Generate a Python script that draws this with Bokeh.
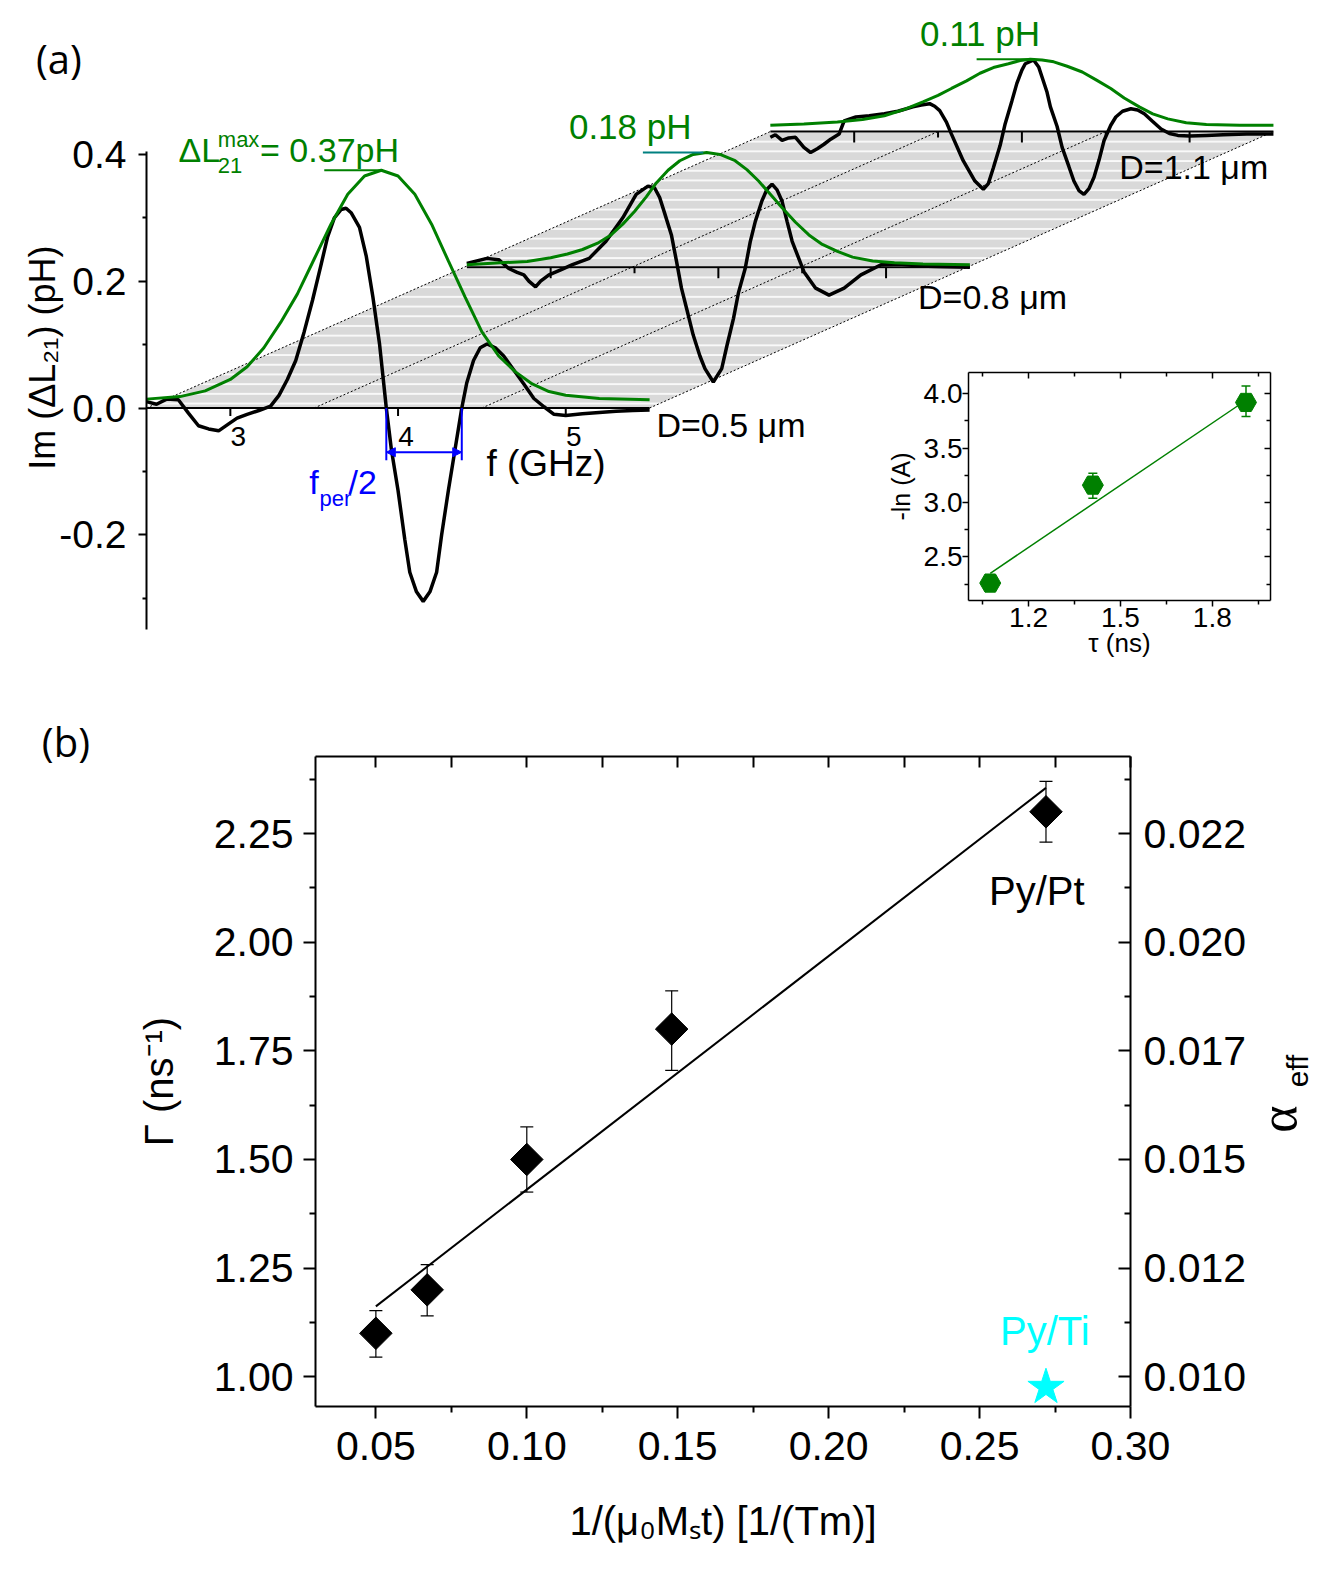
import numpy as np
from bokeh.plotting import figure
from bokeh.models import (LinearAxis, Range1d, FixedTicker, ColumnDataSource, Whisker,
                          TeeHead, Arrow, NormalHead, GridBox)
from bokeh.embed import file_html
from bokeh.resources import INLINE
from bokeh.core.properties import value

# ============================ DATA ============================
# ---- panel (a): Im(dL21) (pH) vs f (GHz), each trace relative to its own baseline
f_d05 = [2.50, 2.56, 2.62, 2.69, 2.75, 2.81, 2.87, 2.93, 2.99, 3.04, 3.10, 3.17, 3.24, 3.29, 3.34,
         3.39, 3.44, 3.49, 3.54, 3.58, 3.62, 3.66, 3.69, 3.72, 3.77, 3.81, 3.85, 3.89, 3.93, 3.96,
         4.00, 4.04, 4.07, 4.11, 4.15, 4.19, 4.23, 4.26, 4.30, 4.34, 4.38, 4.41, 4.45, 4.49, 4.53,
         4.58, 4.63, 4.69, 4.75, 4.81, 4.87, 4.93, 5.00, 5.10, 5.20, 5.30, 5.40, 5.50]
v_d05 = [0.010, 0.006, 0.014, 0.013, -0.008, -0.028, -0.033, -0.036, -0.025, -0.016, -0.010, -0.004,
         0.003, 0.020, 0.045, 0.075, 0.120, 0.170, 0.225, 0.270, 0.300, 0.313, 0.315, 0.308, 0.285,
         0.240, 0.175, 0.100, 0.000, -0.065, -0.130, -0.207, -0.259, -0.290, -0.305, -0.290, -0.259,
         -0.200, -0.130, -0.065, 0.000, 0.040, 0.075, 0.095, 0.101, 0.095, 0.082, 0.060, 0.038, 0.015,
         0.002, -0.010, -0.012, -0.009, -0.007, -0.005, -0.004, -0.003]
g05_f = [2.50, 2.70, 2.85, 3.00, 3.10, 3.20, 3.30, 3.40, 3.50, 3.60, 3.70, 3.80, 3.90, 4.00, 4.10,
         4.20, 4.30, 4.40, 4.50, 4.60, 4.70, 4.80, 4.90, 5.00, 5.20, 5.50]
g05_v = [0.014, 0.018, 0.027, 0.045, 0.065, 0.095, 0.135, 0.180, 0.235, 0.290, 0.337, 0.366, 0.375,
         0.366, 0.337, 0.290, 0.232, 0.175, 0.120, 0.082, 0.057, 0.038, 0.026, 0.020, 0.015, 0.013]

f_d08 = [2.50, 2.56, 2.62, 2.69, 2.75, 2.80, 2.84, 2.87, 2.91, 2.94, 2.99, 3.06, 3.13, 3.23, 3.33,
         3.43, 3.51, 3.58, 3.62, 3.65, 3.68, 3.72, 3.75, 3.78, 3.82, 3.85, 3.89, 3.92, 3.97, 4.02,
         4.05, 4.09, 4.12, 4.16, 4.19, 4.22, 4.26, 4.29, 4.32, 4.35, 4.38, 4.41, 4.44, 4.51, 4.58,
         4.66, 4.75, 4.85, 4.97, 5.08, 5.20, 5.30, 5.50]
v_d08 = [0.006, 0.010, 0.014, 0.012, -0.002, -0.008, -0.012, -0.022, -0.031, -0.022, -0.012, -0.004,
         0.004, 0.014, 0.041, 0.078, 0.115, 0.128, 0.125, 0.110, 0.085, 0.051, 0.010, -0.033, -0.075,
         -0.107, -0.140, -0.160, -0.181, -0.160, -0.125, -0.081, -0.040, -0.002, 0.040, 0.072, 0.105,
         0.123, 0.131, 0.122, 0.104, 0.072, 0.041, -0.007, -0.033, -0.044, -0.033, -0.012, 0.004,
         0.005, 0.002, 0.001, 0.000]
g08_f = [2.50, 2.70, 2.86, 3.00, 3.10, 3.19, 3.28, 3.36, 3.43, 3.50, 3.57, 3.63, 3.70, 3.77, 3.85,
         3.93, 4.01, 4.10, 4.17, 4.24, 4.31, 4.38, 4.46, 4.54, 4.62, 4.71, 4.80, 4.92, 5.05, 5.22, 5.50]
g08_v = [0.004, 0.007, 0.009, 0.015, 0.021, 0.028, 0.038, 0.051, 0.068, 0.088, 0.111, 0.133, 0.153,
         0.168, 0.178, 0.181, 0.178, 0.168, 0.154, 0.136, 0.115, 0.094, 0.071, 0.051, 0.036, 0.025,
         0.016, 0.010, 0.007, 0.005, 0.004]

f_d11 = [2.50, 2.53, 2.57, 2.61, 2.65, 2.70, 2.74, 2.78, 2.82, 2.86, 2.91, 2.94, 3.01, 3.09, 3.18,
         3.26, 3.35, 3.40, 3.45, 3.48, 3.51, 3.55, 3.58, 3.65, 3.72, 3.77, 3.80, 3.83, 3.87, 3.90,
         3.94, 3.97, 4.00, 4.02, 4.07, 4.10, 4.12, 4.15, 4.17, 4.21, 4.24, 4.28, 4.31, 4.34, 4.37,
         4.40, 4.43, 4.46, 4.49, 4.53, 4.56, 4.60, 4.65, 4.69, 4.73, 4.78, 4.83, 4.88, 4.93, 5.00,
         5.10, 5.20, 5.34, 5.50]
v_d11 = [-0.009, -0.005, -0.014, -0.010, -0.009, -0.025, -0.033, -0.027, -0.020, -0.012, -0.004, 0.017,
         0.023, 0.025, 0.028, 0.032, 0.039, 0.042, 0.044, 0.040, 0.033, 0.015, -0.004, -0.046, -0.078,
         -0.091, -0.082, -0.057, -0.022, 0.012, 0.048, 0.076, 0.097, 0.107, 0.113, 0.102, 0.086, 0.062,
         0.039, 0.008, -0.025, -0.055, -0.078, -0.093, -0.099, -0.090, -0.072, -0.045, -0.014, 0.010,
         0.023, 0.032, 0.036, 0.034, 0.028, 0.016, 0.004, -0.003, -0.006, -0.007, -0.006, -0.005,
         -0.004, -0.004]
g11_f = [2.50, 2.70, 2.90, 3.05, 3.18, 3.30, 3.41, 3.50, 3.58, 3.67, 3.75, 3.83, 3.92, 3.99, 4.05,
         4.12, 4.19, 4.27, 4.36, 4.44, 4.53, 4.61, 4.70, 4.78, 4.87, 4.98, 5.10, 5.30, 5.50]
g11_v = [0.010, 0.012, 0.015, 0.019, 0.025, 0.035, 0.047, 0.057, 0.068, 0.080, 0.092, 0.101, 0.107,
         0.112, 0.114, 0.113, 0.110, 0.103, 0.094, 0.082, 0.068, 0.053, 0.039, 0.028, 0.020, 0.014,
         0.011, 0.010, 0.010]

diameter_labels = ["D=0.5 \u03bcm", "D=0.8 \u03bcm", "D=1.1 \u03bcm"]
peak_levels = [0.375, 0.181, 0.114]
peak_texts = ["= 0.37pH", "0.18 pH", "0.11 pH"]
peak_line_f0 = [3.56, 3.55, 3.73]
peak_line_f1 = [3.91, 3.91, 4.07]
f_range = [2.5, 5.5]
f_major = [3, 4, 5]
f_minor = [3.5, 4.5]
f_labels = ["3", "4", "5"]
f_dotted = [2.5, 3.5, 4.5, 5.5]
f_half_period = [3.93, 4.38]
ya_ticks = [-0.2, 0.0, 0.2, 0.4]
ya_minor = [-0.3, -0.1, 0.1, 0.3]
ya_labels = ["-0.2", "0.0", "0.2", "0.4"]

# ---- inset: -ln(A) vs tau (ns)
tau = [1.075, 1.41, 1.91]
mlnA = [2.26, 3.16, 3.92]
mlnA_lo = [2.22, 3.04, 3.79]
mlnA_hi = [2.30, 3.27, 4.07]
tau_fit = [1.075, 1.91]
mlnA_fit = [2.35, 3.94]
ins_x_ticks = [1.2, 1.5, 1.8]
ins_x_minor = [1.05, 1.35, 1.65, 1.95]
ins_x_labels = ["1.2", "1.5", "1.8"]
ins_y_ticks = [2.5, 3.0, 3.5, 4.0]
ins_y_minor = [2.25, 2.75, 3.25, 3.75]
ins_y_labels = ["2.5", "3.0", "3.5", "4.0"]

# ---- panel (b): Gamma vs 1/(mu0 Ms t)
inv_mst = [0.050, 0.067, 0.100, 0.148, 0.272]
gamma = [1.10, 1.20, 1.50, 1.80, 2.30]
gamma_lo = [1.045, 1.140, 1.425, 1.705, 2.230]
gamma_hi = [1.152, 1.258, 1.575, 1.888, 2.370]
fit_x = [0.050, 0.272]
fit_gamma = [1.162, 2.355]
pyti_x = [0.272]
pyti_gamma = [0.976]
xb_ticks = [0.05, 0.10, 0.15, 0.20, 0.25, 0.30]
xb_minor = [0.075, 0.125, 0.175, 0.225, 0.275]
xb_labels = ["0.05", "0.10", "0.15", "0.20", "0.25", "0.30"]
yb_ticks = [1.00, 1.25, 1.50, 1.75, 2.00, 2.25]
yb_minor = [1.125, 1.375, 1.625, 1.875, 2.125, 2.375]
yb_labels = ["1.00", "1.25", "1.50", "1.75", "2.00", "2.25"]
alpha_per_gamma = 0.01
alpha_ticks = [0.010, 0.0125, 0.015, 0.0175, 0.020, 0.0225]
alpha_minor = [0.01125, 0.01375, 0.01625, 0.01875, 0.02125, 0.02375]
alpha_labels = ["0.010", "0.012", "0.015", "0.017", "0.020", "0.022"]

# ============================ STYLE / LAYOUT ============================
FONT = "Liberation Sans"
LETTER_FONT = "Open Sans"
GREEN = "#008000"
TEAL = "#008080"
BLUE = "#0000ff"
CYAN = "#00ffff"
S = 1327 / 1319          # reading scale -> page pixels

PAGE_W = 1319
HA = 680
A_BL, A_BR, A_BT, A_BB = 146, 29, 8, 51
PX_PER_GHZ = 167.7
PX_PER_PH = 634.0
A_BASE_Y = 407.5
xa_end = f_range[0] + (PAGE_W - A_BL - A_BR) / PX_PER_GHZ
ya_end = (A_BASE_Y - A_BT) / PX_PER_PH
ya_start = ya_end - (HA - A_BT - A_BB) / PX_PER_PH
trace_df = [0.0, 1.91, 3.72]
trace_dv = [0.0, 0.222, 0.436]


def ax_(px):
    return f_range[0] + (px * S - A_BL) / PX_PER_GHZ


def ay_(py):
    return (A_BASE_Y - py * S) / PX_PER_PH


def txt(p, x, y, t, size, color="black", align="left", baseline="middle", font=FONT,
        x_offset=0, angle=0.0):
    p.text(x=[x], y=[y], text=[t], text_font=value(font), text_font_size=size, text_color=color,
           text_align=align, text_baseline=baseline, x_offset=x_offset, angle=angle)


def style_axis(a, ticks, minor, labels, t_in, t_out, m_in, m_out, size, lw=2, standoff=8):
    a.ticker = FixedTicker(ticks=ticks, minor_ticks=minor)
    if labels is None:
        a.major_label_overrides = {t: "" for t in ticks}
    else:
        a.major_label_overrides = dict(zip(ticks, labels))
    a.major_tick_in = t_in
    a.major_tick_out = t_out
    a.minor_tick_in = m_in
    a.minor_tick_out = m_out
    a.major_tick_line_width = lw
    a.minor_tick_line_width = lw
    a.axis_line_width = lw
    a.major_label_text_font = FONT
    a.major_label_text_font_size = size
    a.major_label_text_color = "black"
    a.major_label_standoff = standoff
    a.axis_label_text_font = FONT
    a.axis_label_text_font_style = "normal"
    a.axis_label_text_color = "black"


# ============================ PANEL (a) ============================
pa = figure(width=PAGE_W, height=HA, x_range=Range1d(f_range[0], xa_end),
            y_range=Range1d(ya_start, ya_end), x_axis_location=None, y_axis_location="left",
            toolbar_location=None, output_backend="svg", min_border_left=A_BL,
            min_border_right=A_BR, min_border_top=A_BT, min_border_bottom=A_BB,
            outline_line_color=None, frame_align=False)
pa.grid.visible = False
ya = pa.yaxis[0]
style_axis(ya, ya_ticks, ya_minor, ya_labels, 0, 8, 0, 4, "39px", lw=2, standoff=12)
ya.bounds = (ya_start, 0.405)

# grey band with white stripes
band_x = [f_range[0], f_range[1], f_range[1] + trace_df[2], f_range[0] + trace_df[2]]
band_y = [0.0, 0.0, trace_dv[2], trace_dv[2]]
pa.patch(band_x, band_y, fill_color="#d9d9d9", line_color=None, hatch_pattern="horizontal_line",
         hatch_color="white", hatch_scale=9.7, hatch_weight=1.6)
pa.segment(x0=f_dotted, y0=[0.0] * len(f_dotted), x1=[f + trace_df[2] for f in f_dotted],
           y1=[trace_dv[2]] * len(f_dotted), line_color="black", line_width=1, line_dash="2 2")

traces = [(f_d05, v_d05, g05_f, g05_v), (f_d08, v_d08, g08_f, g08_v), (f_d11, v_d11, g11_f, g11_v)]
for i in range(3):
    dx, dy = trace_df[i], trace_dv[i]
    pa.line([f_range[0] + dx, f_range[1] + dx], [dy, dy], line_color="black", line_width=2)
    mlen = (8 if i == 0 else 11) / PX_PER_PH
    pa.segment(x0=[t + dx for t in f_major], y0=[dy] * 3, x1=[t + dx for t in f_major],
               y1=[dy - mlen] * 3, line_color="black", line_width=2)
    if i > 0:
        pa.segment(x0=[t + dx for t in f_minor], y0=[dy] * 2, x1=[t + dx for t in f_minor],
                   y1=[dy - 6 / PX_PER_PH] * 2, line_color="black", line_width=2)

for i in [2, 1, 0]:
    dx, dy = trace_df[i], trace_dv[i]
    fb, vb, fg, vg = traces[i]
    pa.line([f + dx for f in fb], [v + dy for v in vb], line_color="black", line_width=3.5)
    pa.line([f + dx for f in fg], [v + dy for v in vg], line_color=GREEN, line_width=3)
    pa.segment(x0=[peak_line_f0[i] + dx], y0=[peak_levels[i] + dy], x1=[peak_line_f1[i] + dx],
               y1=[peak_levels[i] + dy], line_color=(TEAL if i == 1 else GREEN), line_width=2)

# f axis labels
for t, lab in zip(f_major, f_labels):
    txt(pa, t, ay_(433), lab, "28px", align="center", x_offset=8)
txt(pa, ax_(483), ay_(460), "f (GHz)", "37px")

# peak labels
txt(pa, ax_(177), ay_(149), "\u0394L", "34px", GREEN)
txt(pa, ax_(216), ay_(138), "max", "22px", GREEN)
txt(pa, ax_(216), ay_(164), "21", "22px", GREEN)
txt(pa, ax_(258), ay_(149), peak_texts[0], "34px", GREEN)
txt(pa, ax_(565), ay_(125), peak_texts[1], "35px", GREEN)
txt(pa, ax_(914), ay_(33), peak_texts[2], "35px", GREEN)

# diameter labels
txt(pa, ax_(652), ay_(422), diameter_labels[0], "34px")
txt(pa, ax_(912), ay_(295), diameter_labels[1], "34px")
txt(pa, ax_(1112), ay_(165), diameter_labels[2], "34px")

# f_per/2 bracket
y_brk = ay_(457)
y_arr = ay_(449)
pa.segment(x0=f_half_period, y0=[0.0, 0.0], x1=f_half_period, y1=[y_brk, y_brk],
           line_color=BLUE, line_width=2)
pa.add_layout(Arrow(x_start=f_half_period[0], y_start=y_arr, x_end=f_half_period[1], y_end=y_arr,
                    start=NormalHead(size=9, fill_color=BLUE, line_color=BLUE),
                    end=NormalHead(size=9, fill_color=BLUE, line_color=BLUE),
                    line_color=BLUE, line_width=2))
txt(pa, ax_(307), ay_(479), "f", "34px", BLUE)
txt(pa, ax_(317), ay_(495), "per", "22px", BLUE)
txt(pa, ax_(346), ay_(479), "/2", "34px", BLUE)

# ============================ INSET ============================
ins = figure(width=428, height=316, x_range=Range1d(1.004, 1.99), y_range=Range1d(2.10, 4.195),
             toolbar_location=None, output_backend="svg", min_border_left=96, min_border_right=30,
             min_border_top=12, min_border_bottom=76, border_fill_alpha=0,
             outline_line_color=None, frame_align=False)
ins.grid.visible = False
style_axis(ins.xaxis[0], ins_x_ticks, ins_x_minor, ins_x_labels, 0, 6, 0, 4, "28px", lw=1.5,
           standoff=1)
style_axis(ins.yaxis[0], ins_y_ticks, ins_y_minor, ins_y_labels, 0, 6, 0, 4, "28px", lw=1.5,
           standoff=0)
ins.xaxis[0].axis_label = "\u03c4 (ns)"
ins.xaxis[0].axis_label_text_font_size = "26px"
ins.xaxis[0].axis_label_standoff = -2
ins.yaxis[0].axis_label = "-ln (A)"
ins.yaxis[0].axis_label_text_font_size = "25px"
ins.yaxis[0].axis_label_standoff = 6
top_i = LinearAxis()
style_axis(top_i, ins_x_ticks, ins_x_minor, None, 6, 0, 4, 0, "10px", lw=1.5)
ins.add_layout(top_i, "above")
right_i = LinearAxis()
style_axis(right_i, ins_y_ticks, ins_y_minor, None, 6, 0, 4, 0, "10px", lw=1.5)
ins.add_layout(right_i, "right")
src_i = ColumnDataSource(dict(x=tau, y=mlnA, lo=mlnA_lo, hi=mlnA_hi))
ins.add_layout(Whisker(source=src_i, base="x", lower="lo", upper="hi", line_color=GREEN,
                       line_width=1.5,
                       lower_head=TeeHead(size=9, line_color=GREEN, line_width=1.5),
                       upper_head=TeeHead(size=9, line_color=GREEN, line_width=1.5)))
ins.line(tau_fit, mlnA_fit, line_color=GREEN, line_width=1.5)
ins.scatter("x", "y", source=src_i, marker="hex", size=21, fill_color=GREEN, line_color=GREEN)

# ============================ PANEL (b) ============================
HB = 885
B_BL, B_BR, B_BT, B_BB = 315, 189, 76, 159
PXB = (PAGE_W - B_BL - B_BR) / (0.30 - 0.03)
PYB = 434.6
yb1 = 2.25 + (828 * S - (HA + B_BT)) / PYB
yb0 = yb1 - (HB - B_BT - B_BB) / PYB


def bx_(px):
    return 0.03 + (px * S - B_BL) / PXB


def by_(py):
    return yb1 - (py * S - (HA + B_BT)) / PYB


pb = figure(width=PAGE_W, height=HB, x_range=Range1d(0.03, 0.30), y_range=Range1d(yb0, yb1),
            toolbar_location=None, output_backend="svg", min_border_left=B_BL,
            min_border_right=B_BR, min_border_top=B_BT, min_border_bottom=B_BB,
            outline_line_color=None, frame_align=False)
pb.grid.visible = False
style_axis(pb.xaxis[0], xb_ticks, xb_minor, xb_labels, 0, 12, 0, 6, "41px", lw=2, standoff=13)
pb.xaxis[0].axis_label = "1/(\u03bc\u2080M\u209bt) [1/(Tm)]"
pb.xaxis[0].axis_label_text_font_size = "40px"
pb.xaxis[0].axis_label_standoff = 36
style_axis(pb.yaxis[0], yb_ticks, yb_minor, yb_labels, 0, 12, 0, 6, "41px", lw=2, standoff=10)
pb.yaxis[0].axis_label = "\u0393 (ns\u207b\u00b9)"
pb.yaxis[0].axis_label_text_font_size = "40px"
pb.yaxis[0].axis_label_standoff = 30
top_b = LinearAxis()
style_axis(top_b, xb_ticks, xb_minor, None, 11, 0, 11, 0, "10px", lw=2)
pb.add_layout(top_b, "above")
pb.extra_y_ranges = {"alpha": Range1d(yb0 * alpha_per_gamma, yb1 * alpha_per_gamma)}
right_b = LinearAxis(y_range_name="alpha")
style_axis(right_b, alpha_ticks, alpha_minor, alpha_labels, 12, 0, 6, 0, "41px", lw=2, standoff=13)
pb.add_layout(right_b, "right")

src_b = ColumnDataSource(dict(x=inv_mst, y=gamma, lo=gamma_lo, hi=gamma_hi))
pb.add_layout(Whisker(source=src_b, base="x", lower="lo", upper="hi", line_color="black",
                      line_width=1.2,
                      lower_head=TeeHead(size=13, line_color="black", line_width=1.2),
                      upper_head=TeeHead(size=13, line_color="black", line_width=1.2)))
pb.line(fit_x, fit_gamma, line_color="black", line_width=2)
pb.scatter("x", "y", source=src_b, marker="square", angle=np.pi / 4, size=23,
           fill_color="black", line_color="black")
pb.scatter(pyti_x, pyti_gamma, marker="star", size=38, fill_color=CYAN, line_color=CYAN)
txt(pb, bx_(1030), by_(885), "Py/Pt", "40px", align="center")
txt(pb, bx_(1038), by_(1322), "Py/Ti", "40px", CYAN, align="center")

# ============================ OVERLAY (texts outside the frames) ============================
HT = HA + HB
ov = figure(width=PAGE_W, height=HT, x_range=Range1d(0, PAGE_W), y_range=Range1d(HT, 0),
            toolbar_location=None, output_backend="svg", min_border=0, x_axis_location=None,
            y_axis_location=None, background_fill_alpha=0, border_fill_alpha=0,
            outline_line_color=None, frame_align=False)
ov.grid.visible = False
txt(ov, 58 * S, 58 * S, "(a)", "40px", align="center", font=LETTER_FONT)
txt(ov, 65 * S, 737 * S, "(b)", "40px", align="center", font=LETTER_FONT)
txt(ov, 42 * S, 355 * S, "Im (\u0394L\u2082\u2081) (pH)", "36px", align="center", angle=np.pi / 2)
txt(ov, 1270 * S, 1112 * S, "\u03b1", "52px", align="center", angle=np.pi / 2,
    font="Liberation Serif")
txt(ov, 1289 * S, 1064 * S, "eff", "30px", align="center", angle=np.pi / 2)

# ============================ LAYOUT ============================
grid = GridBox(children=[(pa, 0, 0, 3, 3), (ins, 1, 1, 1, 1), (pb, 3, 0, 1, 3), (ov, 0, 0, 4, 3)],
               rows=["360px", "316px", "4px", "885px"], cols=["872px", "428px", "19px"])

open("out.html", "w").write(file_html(grid, INLINE, title="chart"))
